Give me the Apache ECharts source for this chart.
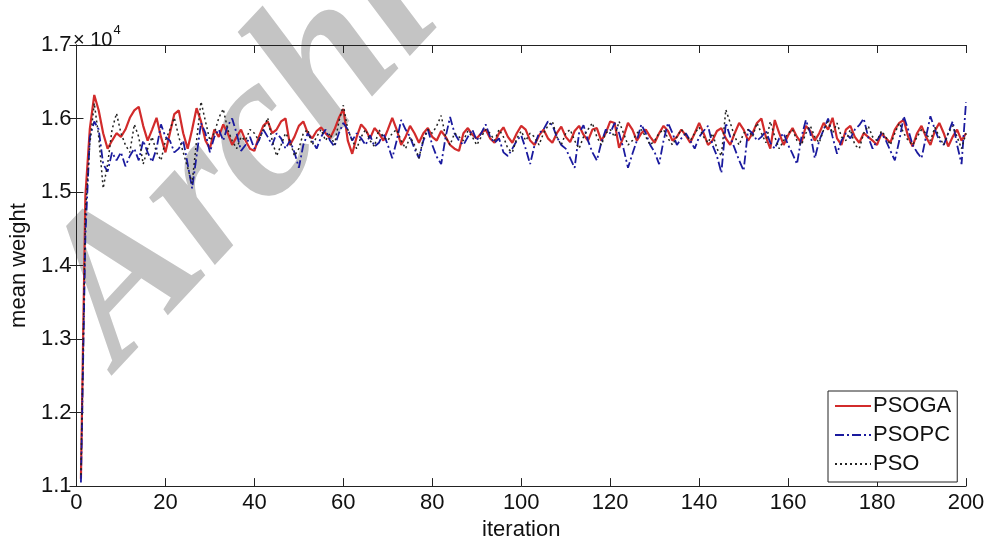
<!DOCTYPE html>
<html>
<head>
<meta charset="utf-8">
<script src="https://cdn.jsdelivr.net/npm/echarts@6/dist/echarts.min.js"></script>
<style>html,body{margin:0;padding:0;background:#fff;}#c{width:989px;height:546px;}</style>
</head>
<body>
<div id="c"></div>
<script>
// iterations 1..200
const iterations = Array.from({length: 200}, (_, k) => k + 1);
const xTicks = [0, 20, 40, 60, 80, 100, 120, 140, 160, 180, 200];
const yTicks = ['1.1', '1.2', '1.3', '1.4', '1.5', '1.6', '1.7'];
const seriesNames = ['PSOGA', 'PSOPC', 'PSO'];

// mean weight, in units of 10^4
const psoga = [
1.110,1.495,1.586,1.632,1.611,1.580,1.559,1.570,1.580,1.575,
1.585,1.601,1.611,1.616,1.590,1.570,1.585,1.601,1.575,1.554,
1.580,1.606,1.611,1.580,1.559,1.585,1.614,1.596,1.570,1.559,
1.585,1.575,1.592,1.580,1.564,1.575,1.585,1.570,1.559,1.556,
1.575,1.590,1.596,1.580,1.585,1.596,1.600,1.564,1.575,1.590,
1.596,1.580,1.573,1.583,1.588,1.580,1.573,1.585,1.601,1.613,
1.570,1.552,1.575,1.592,1.585,1.573,1.587,1.580,1.570,1.585,
1.601,1.585,1.564,1.575,1.590,1.580,1.567,1.580,1.587,1.575,
1.570,1.583,1.575,1.564,1.559,1.556,1.580,1.587,1.578,1.573,
1.580,1.585,1.573,1.567,1.580,1.588,1.575,1.567,1.580,1.590,
1.585,1.570,1.564,1.577,1.585,1.573,1.567,1.580,1.589,1.575,
1.568,1.583,1.590,1.578,1.570,1.585,1.587,1.570,1.580,1.596,
1.594,1.560,1.575,1.594,1.585,1.570,1.580,1.585,1.575,1.567,
1.580,1.590,1.583,1.570,1.575,1.585,1.577,1.567,1.580,1.594,
1.580,1.564,1.570,1.583,1.587,1.573,1.564,1.580,1.594,1.585,
1.570,1.580,1.594,1.600,1.575,1.559,1.598,1.580,1.564,1.577,
1.587,1.575,1.567,1.590,1.583,1.570,1.580,1.594,1.585,1.601,
1.573,1.564,1.585,1.590,1.575,1.567,1.580,1.575,1.570,1.564,
1.580,1.573,1.567,1.585,1.594,1.598,1.575,1.562,1.580,1.590,
1.575,1.564,1.583,1.594,1.580,1.562,1.575,1.585,1.570,1.580
];
const psopc = [
1.105,1.440,1.575,1.596,1.585,1.538,1.528,1.554,1.543,1.554,
1.535,1.549,1.559,1.543,1.570,1.554,1.541,1.559,1.592,1.575,
1.570,1.554,1.559,1.570,1.538,1.505,1.549,1.594,1.580,1.554,
1.575,1.585,1.570,1.590,1.600,1.580,1.556,1.564,1.575,1.559,
1.570,1.585,1.575,1.564,1.580,1.573,1.559,1.570,1.554,1.533,
1.564,1.580,1.570,1.559,1.575,1.585,1.570,1.562,1.580,1.594,
1.585,1.570,1.580,1.573,1.564,1.577,1.562,1.567,1.580,1.564,
1.546,1.570,1.598,1.585,1.575,1.559,1.546,1.570,1.585,1.564,
1.548,1.538,1.575,1.602,1.580,1.570,1.564,1.575,1.585,1.570,
1.580,1.592,1.575,1.567,1.573,1.554,1.549,1.559,1.570,1.577,
1.559,1.538,1.564,1.580,1.585,1.596,1.591,1.575,1.564,1.559,
1.546,1.533,1.580,1.591,1.570,1.554,1.543,1.567,1.585,1.580,
1.594,1.580,1.559,1.533,1.552,1.570,1.592,1.580,1.564,1.554,
1.538,1.570,1.594,1.580,1.564,1.573,1.580,1.570,1.559,1.575,
1.583,1.590,1.564,1.549,1.526,1.594,1.575,1.559,1.543,1.529,
1.585,1.580,1.570,1.575,1.583,1.567,1.559,1.573,1.580,1.564,
1.552,1.538,1.575,1.598,1.580,1.546,1.570,1.585,1.600,1.575,
1.552,1.570,1.580,1.573,1.585,1.591,1.600,1.575,1.559,1.570,
1.580,1.570,1.556,1.543,1.570,1.603,1.585,1.564,1.554,1.546,
1.575,1.603,1.585,1.570,1.564,1.580,1.596,1.564,1.538,1.622
];
const pso = [
1.115,1.470,1.565,1.621,1.575,1.505,1.538,1.585,1.607,1.580,
1.564,1.554,1.592,1.575,1.538,1.559,1.575,1.554,1.543,1.570,
1.585,1.601,1.575,1.554,1.533,1.512,1.570,1.623,1.596,1.570,
1.580,1.601,1.613,1.585,1.570,1.559,1.575,1.570,1.585,1.580,
1.570,1.585,1.601,1.570,1.549,1.564,1.580,1.570,1.549,1.559,
1.580,1.585,1.564,1.575,1.585,1.570,1.580,1.564,1.596,1.618,
1.585,1.570,1.559,1.575,1.585,1.570,1.562,1.585,1.575,1.570,
1.580,1.585,1.570,1.559,1.575,1.564,1.546,1.573,1.585,1.580,
1.590,1.604,1.575,1.564,1.580,1.575,1.570,1.583,1.575,1.564,
1.575,1.585,1.580,1.570,1.585,1.575,1.559,1.554,1.573,1.583,
1.570,1.580,1.575,1.564,1.580,1.590,1.596,1.575,1.564,1.580,
1.585,1.570,1.559,1.575,1.585,1.594,1.575,1.564,1.580,1.585,
1.575,1.596,1.580,1.564,1.570,1.580,1.585,1.575,1.564,1.570,
1.580,1.585,1.573,1.564,1.575,1.585,1.578,1.570,1.580,1.588,
1.575,1.567,1.580,1.559,1.549,1.612,1.594,1.575,1.564,1.580,
1.585,1.575,1.594,1.580,1.567,1.596,1.575,1.559,1.570,1.580,
1.585,1.570,1.564,1.580,1.590,1.575,1.567,1.585,1.596,1.580,
1.594,1.575,1.570,1.585,1.564,1.559,1.580,1.590,1.575,1.570,
1.583,1.575,1.564,1.580,1.594,1.580,1.570,1.564,1.575,1.585,
1.580,1.570,1.588,1.575,1.564,1.580,1.590,1.575,1.559,1.580
];

const pair = arr => iterations.map((it, k) => [it, arr[k]]);
const FONT = 'Liberation Sans, Arial, sans-serif';
const axisLine = {show: true, lineStyle: {color: '#222', width: 1}};

const chart = echarts.init(document.getElementById('c'), null, {renderer: 'canvas'});
chart.setOption({
  animation: false,
  backgroundColor: '#fff',
  grid: {left: 72, right: 23, top: 45, bottom: 50, containLabel: false},
  xAxis: [{
    type: 'value', min: xTicks[0], max: xTicks[xTicks.length - 1], interval: 20, position: 'bottom',
    axisLine: axisLine, axisTick: {show: true, inside: true, length: 8, lineStyle: {color: '#222'}},
    axisLabel: {fontSize: 22, color: '#111', fontFamily: FONT, margin: 6},
    splitLine: {show: false},
    name: 'iteration', nameLocation: 'middle', nameGap: 31,
    nameTextStyle: {fontSize: 22, color: '#111', fontFamily: FONT}
  }, {
    type: 'value', min: xTicks[0], max: xTicks[xTicks.length - 1], interval: 20, position: 'top',
    axisLine: axisLine, axisTick: {show: true, inside: true, length: 8, lineStyle: {color: '#222'}},
    axisLabel: {show: false}, splitLine: {show: false}
  }],
  yAxis: [{
    type: 'value', min: 1.1, max: 1.7, interval: 0.1, position: 'left',
    axisLine: axisLine, axisTick: {show: true, inside: true, length: 7, lineStyle: {color: '#222'}},
    axisLabel: {fontSize: 22, color: '#111', fontFamily: FONT, margin: 5,
      formatter: v => { const s = v.toFixed(1); return yTicks.includes(s) ? s : ''; }},
    splitLine: {show: false},
    name: 'mean weight', nameLocation: 'middle', nameGap: 42,
    nameTextStyle: {fontSize: 22, color: '#111', fontFamily: FONT}
  }, {
    type: 'value', min: 1.1, max: 1.7, interval: 0.1, position: 'right',
    axisLine: axisLine, axisTick: {show: true, inside: true, length: 7, lineStyle: {color: '#222'}},
    axisLabel: {show: false}, splitLine: {show: false}
  }],
  legend: {
    orient: 'vertical', left: 828, top: 391,
    data: seriesNames,
    itemWidth: 36, itemHeight: 12, itemGap: 7,
    padding: [4, 6, 7, 6],
    itemStyle: {opacity: 0},
    backgroundColor: '#fff', borderColor: '#222', borderWidth: 1,
    textStyle: {fontSize: 22, color: '#111', fontFamily: FONT, padding: [0, 0, 0, -3]}
  },
  graphic: [{
    type: 'text', x: 5, y: 262, rotation: 47 * Math.PI / 180, z: -10, silent: true,
    style: {text: 'Archive of SID', fill: '#c4c4c4', fontSize: 205, fontWeight: 'bold', fontStyle: 'italic',
      fontFamily: 'Liberation Serif, Times New Roman, serif', verticalAlign: 'top'}
  }, {
    type: 'text', x: 73, y: 24, z: 10,
    style: {text: '{a|× 10}{b|4}', fill: '#111',
      rich: {a: {fontSize: 20, fontFamily: FONT, verticalAlign: 'bottom', padding: [6, 0, 0, 0]},
             b: {fontSize: 13, fontFamily: FONT, verticalAlign: 'top', padding: [0, 0, 10, 1]}}}
  }],
  series: [{
    name: seriesNames[0], type: 'line', data: pair(psoga), showSymbol: false, symbol: 'none',
    xAxisIndex: 0, yAxisIndex: 0, z: 3,
    lineStyle: {color: '#d22b2b', width: 2.2}, itemStyle: {color: '#d22b2b'}
  }, {
    name: seriesNames[1], type: 'line', data: pair(psopc), showSymbol: false, symbol: 'none',
    xAxisIndex: 0, yAxisIndex: 0, z: 4,
    lineStyle: {color: '#1a1a9e', width: 1.8, type: [9, 3, 2, 3]}, itemStyle: {color: '#1a1a9e'}
  }, {
    name: seriesNames[2], type: 'line', data: pair(pso), showSymbol: false, symbol: 'none',
    xAxisIndex: 0, yAxisIndex: 0, z: 5,
    lineStyle: {color: '#222', width: 1.5, type: [2, 3]}, itemStyle: {color: '#222'}
  }]
});
</script>
</body>
</html>
